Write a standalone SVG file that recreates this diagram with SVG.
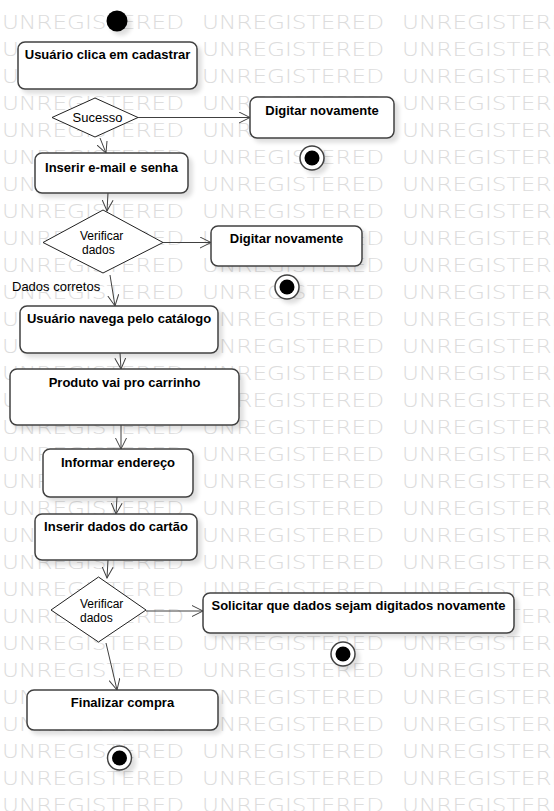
<svg xmlns="http://www.w3.org/2000/svg" width="554" height="811" viewBox="0 0 554 811">
<style>
.wm{font-family:"DejaVu Sans ExtraLight","DejaVu Sans","Liberation Sans",sans-serif;font-weight:200;font-size:19px;fill:#dcdcdc}
.box{fill:#fff;stroke:#404040;stroke-width:1.5}
.dia{fill:#fff;stroke:#202020;stroke-width:1}
.bt{font-family:"Liberation Sans",Arial,sans-serif;font-size:13px;font-weight:bold;fill:#000;text-anchor:middle}
.nt{font-family:"Liberation Sans",Arial,sans-serif;font-size:13px;fill:#000}
.dt{font-family:"Liberation Sans",Arial,sans-serif;font-size:12px;fill:#000}
.ln{fill:none;stroke:#404040;stroke-width:1;marker-end:url(#arr)}
.fo{fill:#fff;stroke:#404040;stroke-width:1.5}
</style>
<defs>
<marker id="arr" markerUnits="userSpaceOnUse" markerWidth="12" markerHeight="12" refX="11" refY="6" orient="auto" viewBox="0 0 12 12">
<path d="M0,0.5 L11,6 L0,11.5" fill="none" stroke="#404040" stroke-width="1"/>
</marker>
<filter id="sh" x="-20%" y="-20%" width="150%" height="160%">
<feGaussianBlur in="SourceAlpha" stdDeviation="2"/>
<feOffset dx="4" dy="4" result="o"/>
<feComponentTransfer><feFuncA type="linear" slope="0.13"/></feComponentTransfer>
<feMerge><feMergeNode/><feMergeNode in="SourceGraphic"/></feMerge>
</filter>
<text id="w" class="wm" textLength="182" lengthAdjust="spacingAndGlyphs">UNREGISTERED</text>
</defs>
<rect width="554" height="811" fill="#fff"/>
<g id="watermark">
<use href="#w" x="2" y="29"/><use href="#w" x="202" y="29"/><use href="#w" x="402" y="29"/>
<use href="#w" x="2" y="56"/><use href="#w" x="202" y="56"/><use href="#w" x="402" y="56"/>
<use href="#w" x="2" y="83"/><use href="#w" x="202" y="83"/><use href="#w" x="402" y="83"/>
<use href="#w" x="2" y="110"/><use href="#w" x="202" y="110"/><use href="#w" x="402" y="110"/>
<use href="#w" x="2" y="137"/><use href="#w" x="202" y="137"/><use href="#w" x="402" y="137"/>
<use href="#w" x="2" y="164"/><use href="#w" x="202" y="164"/><use href="#w" x="402" y="164"/>
<use href="#w" x="2" y="191"/><use href="#w" x="202" y="191"/><use href="#w" x="402" y="191"/>
<use href="#w" x="2" y="218"/><use href="#w" x="202" y="218"/><use href="#w" x="402" y="218"/>
<use href="#w" x="2" y="245"/><use href="#w" x="202" y="245"/><use href="#w" x="402" y="245"/>
<use href="#w" x="2" y="272"/><use href="#w" x="202" y="272"/><use href="#w" x="402" y="272"/>
<use href="#w" x="2" y="299"/><use href="#w" x="202" y="299"/><use href="#w" x="402" y="299"/>
<use href="#w" x="2" y="326"/><use href="#w" x="202" y="326"/><use href="#w" x="402" y="326"/>
<use href="#w" x="2" y="353"/><use href="#w" x="202" y="353"/><use href="#w" x="402" y="353"/>
<use href="#w" x="2" y="380"/><use href="#w" x="202" y="380"/><use href="#w" x="402" y="380"/>
<use href="#w" x="2" y="407"/><use href="#w" x="202" y="407"/><use href="#w" x="402" y="407"/>
<use href="#w" x="2" y="434"/><use href="#w" x="202" y="434"/><use href="#w" x="402" y="434"/>
<use href="#w" x="2" y="461"/><use href="#w" x="202" y="461"/><use href="#w" x="402" y="461"/>
<use href="#w" x="2" y="488"/><use href="#w" x="202" y="488"/><use href="#w" x="402" y="488"/>
<use href="#w" x="2" y="515"/><use href="#w" x="202" y="515"/><use href="#w" x="402" y="515"/>
<use href="#w" x="2" y="542"/><use href="#w" x="202" y="542"/><use href="#w" x="402" y="542"/>
<use href="#w" x="2" y="569"/><use href="#w" x="202" y="569"/><use href="#w" x="402" y="569"/>
<use href="#w" x="2" y="596"/><use href="#w" x="202" y="596"/><use href="#w" x="402" y="596"/>
<use href="#w" x="2" y="623"/><use href="#w" x="202" y="623"/><use href="#w" x="402" y="623"/>
<use href="#w" x="2" y="650"/><use href="#w" x="202" y="650"/><use href="#w" x="402" y="650"/>
<use href="#w" x="2" y="677"/><use href="#w" x="202" y="677"/><use href="#w" x="402" y="677"/>
<use href="#w" x="2" y="704"/><use href="#w" x="202" y="704"/><use href="#w" x="402" y="704"/>
<use href="#w" x="2" y="731"/><use href="#w" x="202" y="731"/><use href="#w" x="402" y="731"/>
<use href="#w" x="2" y="758"/><use href="#w" x="202" y="758"/><use href="#w" x="402" y="758"/>
<use href="#w" x="2" y="785"/><use href="#w" x="202" y="785"/><use href="#w" x="402" y="785"/>
<use href="#w" x="2" y="812"/><use href="#w" x="202" y="812"/><use href="#w" x="402" y="812"/>
</g>
<g id="connectors">
<line class="ln" x1="138" y1="117.5" x2="250" y2="117.5"/>
<line class="ln" x1="100" y1="138" x2="106" y2="153"/>
<line class="ln" x1="108" y1="193" x2="107" y2="211"/>
<line class="ln" x1="163" y1="242.5" x2="211" y2="242.5"/>
<line class="ln" x1="110" y1="275" x2="115" y2="306"/>
<line class="ln" x1="120" y1="353" x2="121" y2="369"/>
<line class="ln" x1="121" y1="425" x2="121" y2="449"/>
<line class="ln" x1="117" y1="497" x2="116" y2="514"/>
<line class="ln" x1="108" y1="560" x2="107" y2="578"/>
<line class="ln" x1="146" y1="611" x2="203" y2="611"/>
<line class="ln" x1="106" y1="643" x2="117" y2="690"/>
</g>
<g id="start"><circle cx="117" cy="21" r="10.5" fill="#000" filter="url(#sh)"/></g>
<g id="n1"><rect class="box" x="18" y="42" width="179" height="47" rx="7" filter="url(#sh)"/><text class="bt" x="107.5" y="59">Usuário clica em cadastrar</text></g>
<g id="d1"><polygon class="dia" points="95,98 138,117.5 95,137 52,117.5"/><text class="nt" x="97.5" y="121.5" text-anchor="middle">Sucesso</text></g>
<g id="n2"><rect class="box" x="250" y="97" width="144" height="41" rx="7" filter="url(#sh)"/><text class="bt" x="322" y="115">Digitar novamente</text></g>
<g id="f1" filter="url(#sh)"><circle class="fo" cx="312" cy="158" r="12"/><circle cx="312" cy="158" r="7.5" fill="#000"/></g>
<g id="n3"><rect class="box" x="35" y="153" width="153" height="40" rx="7" filter="url(#sh)"/><text class="bt" x="111.5" y="172">Inserir e-mail e senha</text></g>
<g id="d2"><polygon class="dia" points="103,210 163,242.5 103,273 43,242.5"/><text class="dt"><tspan x="80" y="240">Verificar</tspan><tspan x="82" y="254">dados</tspan></text></g>
<g id="n4"><rect class="box" x="211" y="226" width="151" height="40" rx="7" filter="url(#sh)"/><text class="bt" x="286.5" y="243">Digitar novamente</text></g>
<g id="f2" filter="url(#sh)"><circle class="fo" cx="287" cy="287" r="12"/><circle cx="287" cy="287" r="7.5" fill="#000"/></g>
<g id="lbl"><text class="nt" x="12" y="291">Dados corretos</text></g>
<g id="n5"><rect class="box" x="20" y="306" width="198" height="47" rx="7" filter="url(#sh)"/><text class="bt" x="119" y="323">Usuário navega pelo catálogo</text></g>
<g id="n6"><rect class="box" x="10" y="369" width="229" height="56" rx="7" filter="url(#sh)"/><text class="bt" x="124.5" y="387">Produto vai pro carrinho</text></g>
<g id="n7"><rect class="box" x="43" y="449" width="150" height="48" rx="7" filter="url(#sh)"/><text class="bt" x="118" y="467">Informar endereço</text></g>
<g id="n8"><rect class="box" x="35" y="514" width="162" height="46" rx="7" filter="url(#sh)"/><text class="bt" x="116" y="531">Inserir dados do cartão</text></g>
<g id="d3"><polygon class="dia" points="98.5,577 146,610 98.5,642 51,610"/><text class="dt"><tspan x="80" y="608">Verificar</tspan><tspan x="80" y="622">dados</tspan></text></g>
<g id="n9"><rect class="box" x="203" y="593" width="311" height="40" rx="7" filter="url(#sh)"/><text class="bt" x="358.5" y="610">Solicitar que dados sejam digitados novamente</text></g>
<g id="f3" filter="url(#sh)"><circle class="fo" cx="343" cy="654" r="12"/><circle cx="343" cy="654" r="7.5" fill="#000"/></g>
<g id="n10"><rect class="box" x="27" y="690" width="191" height="40" rx="7" filter="url(#sh)"/><text class="bt" x="122.5" y="707">Finalizar compra</text></g>
<g id="f4" filter="url(#sh)"><circle class="fo" cx="119.5" cy="758" r="12"/><circle cx="119.5" cy="758" r="7.5" fill="#000"/></g>
</svg>
